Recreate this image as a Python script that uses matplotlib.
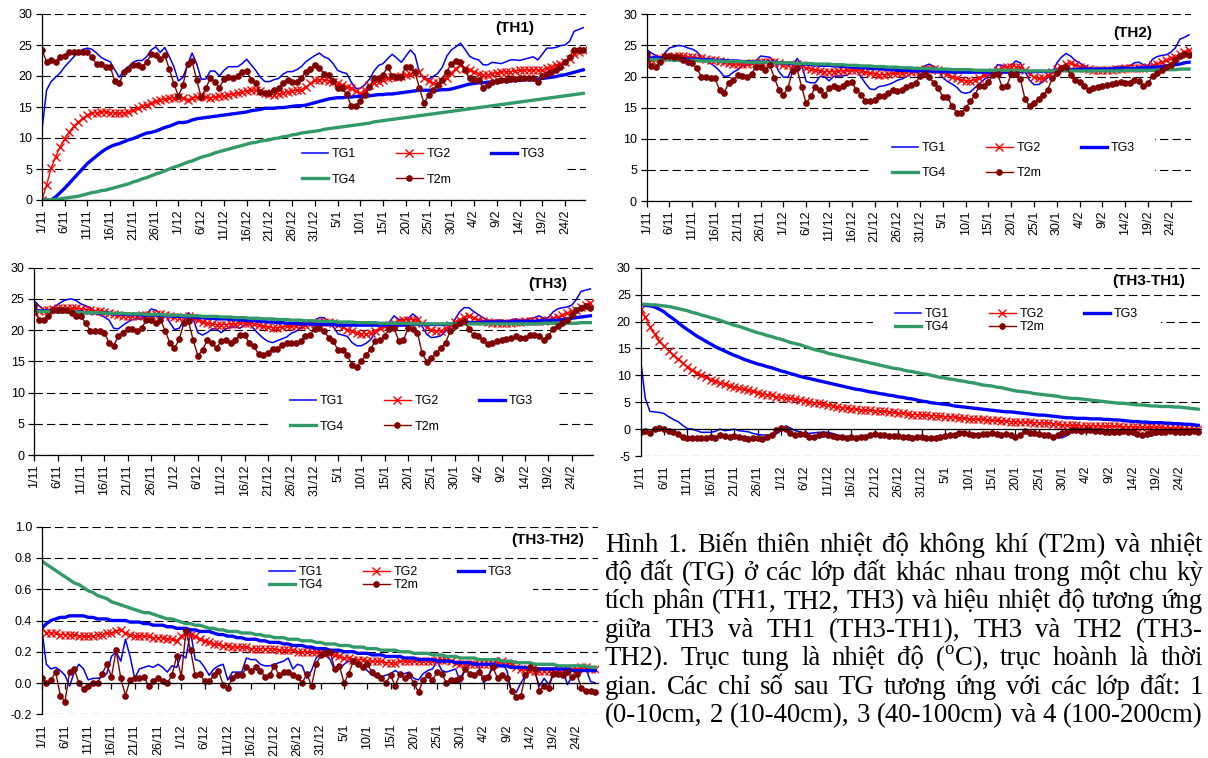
import numpy as np
import matplotlib
matplotlib.use('Agg')
import matplotlib.pyplot as plt
from matplotlib.patches import Rectangle
from matplotlib.ticker import FormatStrFormatter

plt.rcParams['font.family'] = 'Liberation Sans'
plt.rcParams['lines.scale_dashes'] = False
plt.rcParams['mathtext.fontset'] = 'custom'
plt.rcParams['mathtext.rm'] = 'Liberation Serif'

# ---------------- data (daily values, 1/11 .. 28/2) ----------------
days = np.arange(120)
tick_pos = np.arange(0, 116, 5)
tick_labels = ['1/11', '6/11', '11/11', '16/11', '21/11', '26/11', '1/12', '6/12',
               '11/12', '16/12', '21/12', '26/12', '31/12', '5/1', '10/1', '15/1',
               '20/1', '25/1', '30/1', '4/2', '9/2', '14/2', '19/2', '24/2']

# TH1
th1_tg1 = [11.3, 17.7, 19.1, 19.8, 20.5, 21.5, 22.3, 23.1, 23.9, 24.3,
           24.5, 24.3, 23.7, 23.0, 22.6, 22.3, 21.0, 19.8, 20.9, 21.5,
           22.2, 22.5, 22.5, 23.1, 24.2, 24.7, 23.8, 24.6, 23.1, 21.5,
           19.2, 19.8, 21.8, 23.7, 22.0, 19.5, 19.5, 20.8, 20.8, 20.0,
           20.9, 21.5, 21.5, 21.5, 22.0, 22.7, 21.8, 20.9, 19.8, 19.1,
           19.1, 19.4, 19.6, 20.3, 20.7, 20.7, 21.0, 21.5, 22.3, 22.8,
           23.3, 23.7, 23.1, 22.8, 22.0, 20.9, 20.6, 20.4, 19.0, 18.0,
           18.0, 18.6, 19.5, 20.8, 21.7, 22.0, 22.8, 23.5, 22.9, 22.2,
           23.2, 24.2, 23.4, 20.5, 19.5, 19.5, 19.9, 20.4, 21.4, 23.2,
           24.2, 24.7, 25.3, 24.3, 23.2, 22.8, 22.6, 21.8, 21.8, 22.2,
           22.1, 22.0, 22.3, 22.6, 22.6, 22.5, 22.7, 22.9, 23.1, 22.6,
           23.5, 24.5, 24.5, 24.6, 24.9, 25.0, 25.6, 27.2, 27.5, 27.8]
th1_tg2 = [0.0, 2.4, 5.1, 7.0, 8.6, 9.9, 11.0, 11.9, 12.6, 13.2,
           13.7, 14.0, 14.1, 14.2, 14.2, 14.1, 14.0, 14.0, 14.1, 14.2,
           14.5, 14.8, 15.1, 15.3, 15.6, 15.9, 16.1, 16.3, 16.4, 16.5,
           16.6, 16.4, 16.2, 16.4, 16.6, 16.7, 16.6, 16.5, 16.6, 16.7,
           16.8, 16.9, 17.1, 17.2, 17.4, 17.6, 17.7, 17.7, 17.6, 17.3,
           17.1, 17.0, 17.1, 17.2, 17.5, 17.6, 17.7, 17.8, 18.2, 18.8,
           19.3, 19.4, 19.4, 19.2, 19.1, 18.8, 18.5, 18.3, 18.0, 17.6,
           17.2, 17.7, 18.5, 18.9, 19.1, 19.4, 19.6, 19.8, 19.9, 20.0,
           20.1, 20.3, 20.5, 20.7, 19.6, 19.2, 18.8, 18.8, 19.2, 19.6,
           20.5, 21.2, 21.8, 21.3, 20.9, 20.7, 20.3, 20.2, 20.2, 20.4,
           20.5, 20.6, 20.7, 20.7, 20.8, 20.9, 20.9, 21.0, 21.0, 21.0,
           21.0, 21.3, 21.5, 21.7, 22.0, 22.3, 22.8, 23.5, 23.9, 24.2]
th1_tg3 = [0.0, 0.0, 0.0, 0.5, 1.2, 1.9, 2.7, 3.5, 4.3, 5.1,
           5.9, 6.5, 7.1, 7.7, 8.2, 8.6, 8.9, 9.1, 9.4, 9.7,
           9.9, 10.2, 10.5, 10.8, 10.9, 11.1, 11.4, 11.7, 11.9, 12.2,
           12.5, 12.5, 12.6, 12.9, 13.1, 13.2, 13.3, 13.4, 13.5, 13.6,
           13.7, 13.8, 13.9, 14.0, 14.1, 14.2, 14.4, 14.5, 14.6, 14.8,
           14.8, 14.8, 14.9, 14.9, 15.0, 15.1, 15.2, 15.2, 15.3, 15.5,
           15.7, 15.9, 16.1, 16.3, 16.4, 16.5, 16.5, 16.6, 16.6, 16.7,
           16.7, 16.7, 16.8, 16.9, 17.0, 17.0, 17.1, 17.1, 17.2, 17.3,
           17.4, 17.5, 17.6, 17.7, 17.7, 17.7, 17.7, 17.7, 17.8, 17.8,
           17.9, 18.1, 18.3, 18.5, 18.7, 18.8, 18.9, 18.9, 19.0, 19.0,
           19.1, 19.1, 19.2, 19.2, 19.3, 19.3, 19.4, 19.4, 19.4, 19.5,
           19.6, 19.7, 19.8, 19.9, 20.1, 20.2, 20.4, 20.6, 20.8, 21.0]
th1_tg4 = [0.0, 0.0, 0.05, 0.1, 0.2, 0.3, 0.4, 0.5, 0.6, 0.8,
           1.0, 1.2, 1.3, 1.5, 1.6, 1.8, 2.0, 2.2, 2.4, 2.6,
           2.9, 3.1, 3.4, 3.6, 3.9, 4.2, 4.4, 4.7, 5.0, 5.3,
           5.5, 5.8, 6.1, 6.3, 6.6, 6.9, 7.1, 7.3, 7.6, 7.8,
           8.0, 8.2, 8.4, 8.6, 8.8, 9.0, 9.2, 9.3, 9.5, 9.6,
           9.7, 9.9, 10.0, 10.2, 10.3, 10.5, 10.6, 10.8, 10.9, 11.0,
           11.1, 11.2, 11.4, 11.5, 11.6, 11.7, 11.8, 11.9, 12.0, 12.1,
           12.2, 12.3, 12.4, 12.6, 12.7, 12.8, 12.9, 13.0, 13.1, 13.2,
           13.3, 13.4, 13.5, 13.6, 13.7, 13.8, 13.9, 14.0, 14.1, 14.2,
           14.3, 14.4, 14.5, 14.6, 14.7, 14.8, 14.9, 15.0, 15.1, 15.2,
           15.3, 15.4, 15.5, 15.6, 15.7, 15.8, 15.9, 16.0, 16.1, 16.2,
           16.3, 16.4, 16.5, 16.6, 16.7, 16.8, 16.9, 17.0, 17.1, 17.2]
th1_t2m = [24.2, 22.3, 22.6, 22.3, 23.1, 23.3, 23.9, 23.9, 23.8, 23.8,
           23.8, 23.0, 21.9, 21.9, 21.5, 21.5, 19.2, 18.8, 20.7, 21.1,
           21.8, 21.8, 21.5, 22.2, 23.5, 23.4, 22.7, 23.4, 21.1, 18.7,
           16.8, 18.5, 22.0, 22.4, 19.4, 16.6, 18.0, 19.6, 19.1, 18.1,
           19.5, 19.8, 19.7, 20.0, 20.7, 20.8, 19.4, 18.8, 17.5, 17.3,
           17.3, 17.8, 18.0, 18.9, 19.4, 19.1, 19.1, 19.6, 20.7, 21.2,
           21.7, 21.3, 20.4, 20.2, 19.2, 18.0, 18.0, 17.1, 15.1, 15.1,
           15.9, 16.9, 18.2, 19.6, 19.6, 20.2, 21.5, 20.0, 19.8, 19.9,
           21.5, 21.5, 20.7, 18.0, 15.6, 16.9, 17.8, 18.5, 19.4, 20.7,
           22.0, 22.4, 22.3, 21.0, 19.6, 19.4, 19.4, 18.0, 18.5, 19.1,
           19.2, 19.4, 19.4, 19.5, 19.5, 19.6, 19.6, 19.6, 19.6, 19.1,
           20.0, 20.3, 20.7, 21.0, 21.5, 22.3, 23.1, 24.2, 24.2, 24.2]

# TH2
th2_tg1 = [24.3, 23.8, 23.4, 22.9, 23.8, 24.6, 24.8, 25.0, 24.9, 24.6,
           24.4, 24.0, 23.1, 22.5, 22.1, 21.6, 20.9, 20.0, 20.1, 20.7,
           21.1, 21.7, 21.9, 22.0, 22.5, 23.3, 23.2, 23.1, 22.4, 20.8,
           19.9, 19.9, 21.5, 22.9, 21.9, 19.2, 19.0, 19.0, 20.0, 20.0,
           19.3, 20.0, 20.1, 20.1, 20.2, 21.0, 21.0, 20.0, 18.9, 18.0,
           17.9, 18.4, 18.5, 18.7, 19.0, 19.4, 19.6, 20.0, 20.5, 21.0,
           21.3, 21.7, 22.0, 21.6, 21.0, 19.8, 19.2, 18.8, 18.3, 17.5,
           17.3, 17.5, 18.2, 18.8, 19.5, 20.1, 20.8, 21.9, 21.8, 21.5,
           21.8, 22.5, 22.2, 20.8, 19.4, 18.7, 18.7, 19.2, 19.8, 20.6,
           22.2, 23.1, 23.7, 23.3, 22.6, 22.2, 21.7, 21.4, 21.2, 21.0,
           21.2, 21.3, 21.3, 21.6, 21.6, 21.6, 21.7, 22.2, 22.3, 21.9,
           21.7, 22.8, 23.2, 23.4, 23.5, 23.9, 24.6, 26.0, 26.3, 26.7]
th2_tg2 = [22.4, 22.6, 22.8, 23.0, 23.1, 23.2, 23.3, 23.3, 23.3, 23.2,
           23.1, 23.0, 22.9, 22.8, 22.7, 22.6, 22.5, 22.3, 22.1, 22.0,
           22.0, 22.0, 22.0, 22.1, 22.2, 22.3, 22.4, 22.4, 22.3, 22.1,
           21.9, 21.8, 21.9, 22.0, 21.8, 21.4, 21.2, 21.0, 20.9, 20.8,
           20.8, 20.8, 20.9, 20.9, 21.0, 21.0, 21.0, 20.9, 20.7, 20.5,
           20.4, 20.3, 20.3, 20.4, 20.5, 20.5, 20.6, 20.7, 20.8, 20.9,
           21.0, 21.2, 21.2, 21.2, 21.1, 20.8, 20.4, 20.0, 19.7, 19.5,
           19.3, 19.3, 19.5, 19.8, 20.2, 20.5, 20.8, 21.1, 21.3, 21.5,
           21.6, 21.6, 21.5, 21.0, 20.4, 19.9, 19.7, 19.8, 20.2, 20.7,
           21.2, 21.6, 22.0, 22.1, 21.9, 21.6, 21.4, 21.2, 21.1, 21.0,
           21.0, 21.1, 21.1, 21.2, 21.2, 21.3, 21.3, 21.4, 21.4, 21.4,
           21.5, 21.8, 22.0, 22.3, 22.6, 22.9, 23.2, 23.6, 23.9, 24.2]
th2_tg3 = [23.0, 23.0, 23.0, 23.0, 23.0, 22.9, 22.9, 22.9, 22.9, 22.8,
           22.8, 22.8, 22.7, 22.7, 22.7, 22.6, 22.6, 22.6, 22.5, 22.5,
           22.5, 22.4, 22.4, 22.4, 22.3, 22.3, 22.3, 22.3, 22.3, 22.2,
           22.2, 22.1, 22.1, 22.1, 22.0, 22.0, 21.9, 21.9, 21.8, 21.8,
           21.8, 21.7, 21.7, 21.6, 21.6, 21.5, 21.5, 21.4, 21.4, 21.3,
           21.3, 21.2, 21.2, 21.1, 21.1, 21.0, 21.0, 21.0, 20.9, 20.9,
           20.9, 20.9, 20.9, 20.8, 20.8, 20.8, 20.8, 20.7, 20.7, 20.7,
           20.7, 20.7, 20.7, 20.7, 20.7, 20.7, 20.7, 20.7, 20.7, 20.7,
           20.8, 20.8, 20.8, 20.8, 20.8, 20.8, 20.8, 20.8, 20.8, 20.9,
           20.9, 21.0, 21.0, 21.1, 21.1, 21.2, 21.2, 21.2, 21.2, 21.2,
           21.2, 21.2, 21.2, 21.3, 21.3, 21.3, 21.3, 21.3, 21.4, 21.4,
           21.4, 21.5, 21.5, 21.6, 21.7, 21.8, 21.9, 22.0, 22.2, 22.3]
th2_tg4 = [22.7, 22.7, 22.7, 22.7, 22.7, 22.7, 22.6, 22.6, 22.6, 22.6,
           22.6, 22.6, 22.5, 22.5, 22.5, 22.5, 22.5, 22.4, 22.4, 22.4,
           22.4, 22.4, 22.3, 22.3, 22.3, 22.3, 22.3, 22.2, 22.2, 22.2,
           22.2, 22.2, 22.2, 22.1, 22.1, 22.1, 22.1, 22.0, 22.0, 22.0,
           22.0, 21.9, 21.9, 21.9, 21.8, 21.8, 21.8, 21.7, 21.7, 21.7,
           21.6, 21.6, 21.6, 21.5, 21.5, 21.5, 21.4, 21.4, 21.4, 21.3,
           21.3, 21.3, 21.3, 21.2, 21.2, 21.2, 21.2, 21.1, 21.1, 21.1,
           21.1, 21.1, 21.0, 21.0, 21.0, 21.0, 21.0, 21.0, 21.0, 21.0,
           21.0, 21.0, 21.0, 20.9, 20.9, 20.9, 20.9, 20.9, 20.9, 20.9,
           20.9, 20.9, 20.9, 20.9, 20.9, 20.9, 20.9, 20.9, 20.9, 20.9,
           20.9, 20.9, 20.9, 20.9, 20.9, 21.0, 21.0, 21.0, 21.0, 21.0,
           21.0, 21.0, 21.0, 21.1, 21.1, 21.1, 21.1, 21.2, 21.2, 21.2]
th2_t2m = [23.7, 21.7, 21.6, 22.4, 23.3, 23.3, 23.2, 23.1, 22.7, 22.4,
           22.2, 21.3, 20.0, 19.9, 19.7, 19.7, 17.8, 17.4, 19.0, 19.4,
           20.2, 20.1, 19.9, 20.4, 21.6, 21.6, 21.0, 21.9, 19.8, 17.9,
           17.0, 18.2, 20.9, 21.3, 18.3, 15.7, 16.8, 18.3, 17.9, 17.0,
           18.1, 18.4, 18.1, 18.5, 19.0, 19.2, 17.8, 17.1, 16.0, 16.0,
           16.3, 16.9, 16.9, 17.4, 17.8, 17.7, 17.8, 18.3, 18.6, 19.0,
           20.1, 20.4, 19.9, 19.0, 18.1, 16.7, 16.7, 15.3, 14.2, 14.2,
           14.9, 16.0, 17.0, 18.5, 18.5, 19.2, 20.2, 20.4, 18.3, 18.5,
           20.4, 20.4, 19.6, 16.4, 15.2, 15.7, 16.4, 17.0, 17.9, 19.7,
           20.6, 21.3, 21.6, 20.2, 19.4, 19.2, 18.5, 17.8, 18.1, 18.3,
           18.5, 18.6, 18.8, 18.9, 19.2, 18.9, 18.9, 19.4, 19.3, 18.5,
           18.9, 20.1, 20.6, 21.0, 21.6, 21.9, 22.7, 23.3, 23.7, 23.5]

# TH3
th3_tg1 = [24.7, 23.9, 23.3, 23.0, 23.6, 24.1, 24.6, 24.9, 25.0, 24.7,
           24.2, 23.9, 23.6, 22.7, 22.5, 22.1, 21.6, 20.3, 20.2, 20.8,
           21.3, 21.7, 21.8, 21.8, 22.5, 23.4, 23.2, 22.6, 22.5, 21.2,
           20.1, 20.3, 21.5, 22.8, 21.8, 19.6, 19.2, 19.6, 20.2, 20.2,
           19.6, 20.2, 20.5, 20.5, 20.3, 20.8, 21.0, 20.2, 19.4, 18.7,
           18.2, 18.0, 18.3, 18.6, 18.9, 19.5, 19.8, 20.3, 20.8, 21.2,
           21.5, 22.0, 22.0, 21.1, 20.5, 19.4, 19.2, 19.0, 18.0, 17.5,
           17.5, 17.9, 18.5, 19.6, 20.2, 20.7, 21.3, 22.3, 21.7, 21.6,
           21.9, 22.6, 22.0, 20.6, 19.3, 18.8, 18.9, 19.1, 19.8, 20.5,
           21.7, 22.9, 23.6, 23.6, 23.0, 22.5, 22.0, 21.6, 21.5, 21.6,
           21.6, 21.4, 21.6, 21.8, 21.6, 21.6, 21.8, 22.0, 22.3, 21.9,
           22.0, 22.9, 23.4, 23.6, 23.7, 24.0, 24.9, 26.2, 26.4, 26.6]
th3_tg2 = [22.8, 23.0, 23.2, 23.3, 23.4, 23.5, 23.5, 23.5, 23.5, 23.5,
           23.4, 23.3, 23.2, 23.1, 23.0, 22.9, 22.8, 22.6, 22.4, 22.3,
           22.3, 22.3, 22.3, 22.4, 22.5, 22.5, 22.6, 22.6, 22.5, 22.3,
           22.1, 22.0, 22.1, 22.2, 22.0, 21.6, 21.3, 21.1, 21.0, 20.9,
           20.9, 20.9, 21.0, 21.0, 21.1, 21.1, 21.1, 21.0, 20.8, 20.6,
           20.5, 20.4, 20.4, 20.5, 20.6, 20.6, 20.7, 20.8, 20.9, 21.0,
           21.1, 21.3, 21.3, 21.3, 21.2, 20.9, 20.5, 20.1, 19.8, 19.6,
           19.4, 19.4, 19.6, 19.9, 20.3, 20.6, 20.9, 21.2, 21.4, 21.6,
           21.7, 21.7, 21.6, 21.1, 20.5, 20.0, 19.8, 19.9, 20.3, 20.8,
           21.3, 21.7, 22.1, 22.2, 22.0, 21.7, 21.5, 21.3, 21.2, 21.1,
           21.1, 21.2, 21.2, 21.3, 21.3, 21.4, 21.4, 21.5, 21.5, 21.5,
           21.6, 21.9, 22.1, 22.4, 22.7, 23.0, 23.3, 23.7, 24.0, 24.3]
th3_tg3 = [23.1, 23.1, 23.1, 23.1, 23.0, 23.0, 23.0, 23.0, 22.9, 22.9,
           22.9, 22.8, 22.8, 22.8, 22.7, 22.7, 22.7, 22.6, 22.6, 22.6,
           22.5, 22.5, 22.5, 22.4, 22.4, 22.4, 22.4, 22.3, 22.3, 22.3,
           22.2, 22.2, 22.2, 22.1, 22.1, 22.0, 22.0, 21.9, 21.9, 21.8,
           21.8, 21.8, 21.7, 21.7, 21.6, 21.6, 21.5, 21.5, 21.4, 21.4,
           21.3, 21.3, 21.2, 21.2, 21.1, 21.1, 21.1, 21.0, 21.0, 21.0,
           20.9, 20.9, 20.9, 20.9, 20.9, 20.8, 20.8, 20.8, 20.8, 20.8,
           20.8, 20.8, 20.8, 20.8, 20.8, 20.8, 20.8, 20.8, 20.8, 20.8,
           20.8, 20.9, 20.9, 20.9, 20.9, 20.9, 20.9, 20.9, 20.9, 21.0,
           21.0, 21.1, 21.1, 21.2, 21.2, 21.2, 21.3, 21.3, 21.3, 21.3,
           21.3, 21.3, 21.3, 21.4, 21.4, 21.4, 21.4, 21.4, 21.5, 21.5,
           21.5, 21.6, 21.6, 21.7, 21.8, 21.9, 22.0, 22.1, 22.2, 22.3]
th3_tg4 = [23.0, 23.0, 23.0, 23.0, 23.0, 22.9, 22.9, 22.9, 22.9, 22.9,
           22.8, 22.8, 22.8, 22.8, 22.8, 22.7, 22.7, 22.7, 22.7, 22.7,
           22.6, 22.6, 22.6, 22.6, 22.5, 22.5, 22.5, 22.5, 22.4, 22.4,
           22.4, 22.4, 22.3, 22.3, 22.3, 22.3, 22.2, 22.2, 22.2, 22.2,
           22.1, 22.1, 22.1, 22.0, 22.0, 22.0, 21.9, 21.9, 21.9, 21.8,
           21.8, 21.8, 21.7, 21.7, 21.7, 21.6, 21.6, 21.6, 21.5, 21.5,
           21.5, 21.4, 21.4, 21.4, 21.4, 21.3, 21.3, 21.3, 21.3, 21.2,
           21.2, 21.2, 21.2, 21.2, 21.1, 21.1, 21.1, 21.1, 21.1, 21.1,
           21.1, 21.0, 21.0, 21.0, 21.0, 21.0, 21.0, 21.0, 21.0, 21.0,
           21.0, 21.0, 21.0, 21.0, 21.0, 21.0, 21.0, 21.0, 21.0, 21.0,
           21.0, 21.0, 21.0, 21.0, 21.0, 21.0, 21.0, 21.0, 21.0, 21.1,
           21.1, 21.1, 21.1, 21.1, 21.1, 21.1, 21.1, 21.2, 21.2, 21.2]
th3_t2m = [23.8, 21.7, 21.6, 22.3, 23.2, 23.2, 23.2, 23.3, 22.7, 22.3,
           22.2, 21.1, 19.9, 19.9, 19.8, 19.6, 18.0, 17.5, 19.1, 19.6,
           20.2, 20.2, 19.9, 20.4, 21.6, 21.6, 21.1, 21.7, 19.9, 18.0,
           17.1, 18.5, 21.1, 21.4, 18.4, 15.9, 16.8, 18.4, 18.0, 17.1,
           18.3, 18.4, 18.0, 18.4, 19.2, 19.2, 18.0, 17.4, 16.1, 16.0,
           16.4, 16.9, 17.0, 17.6, 18.0, 17.9, 18.0, 18.3, 19.0, 19.3,
           20.2, 20.4, 19.9, 18.8, 18.2, 16.8, 16.8, 16.0, 14.4, 14.1,
           15.1, 16.0, 17.0, 18.3, 18.4, 19.1, 20.2, 20.3, 18.3, 18.4,
           20.3, 20.2, 19.6, 16.3, 14.9, 15.5, 16.3, 17.1, 18.0, 19.8,
           20.7, 21.1, 21.5, 20.2, 19.2, 19.0, 18.4, 17.7, 18.0, 18.3,
           18.4, 18.6, 18.7, 19.0, 18.8, 18.7, 19.2, 19.2, 19.1, 18.4,
           19.0, 20.2, 20.6, 21.1, 21.6, 22.4, 23.2, 23.5, 23.8, 23.5]

# TH3 - TH1
d31_tg1 = [13.1, 5.8, 3.3, 3.2, 3.1, 2.9, 2.3, 1.8, 1.4, 0.7,
           0.1, 0.0, -0.3, -0.6, -0.6, -0.6, -0.4, 0.0, -0.3, -0.2,
           0.0, -0.3, -0.4, -0.5, -0.8, -1.0, -1.1, -1.1, -1.1, -0.9,
           -0.3, 0.6, 0.2, -0.3, -0.5, -0.8, -0.8, -0.7, -0.6, -0.6,
           -0.6, -0.8, -1.1, -1.3, -1.4, -1.4, -1.4, -1.3, -1.2, -1.1,
           -1.0, -1.0, -1.0, -1.1, -1.2, -1.4, -1.5, -1.5, -1.6, -1.6,
           -1.6, -1.7, -1.7, -1.7, -1.6, -1.4, -1.3, -1.2, -1.0, -1.0,
           -1.1, -1.2, -1.2, -1.1, -1.1, -1.0, -1.1, -1.2, -1.2, -1.2,
           -1.5, -1.3, -0.6, -0.9, -1.0, -1.1, -1.2, -1.3, -1.5, -1.6,
           -1.6, -1.2, -0.5, -0.3, -0.4, -0.4, -0.4, -0.5, -0.5, -0.6,
           -0.7, -0.7, -0.7, -0.6, -0.7, -0.8, -1.1, -1.3, -1.3, -1.2,
           -1.0, -0.8, -0.8, -0.7, -0.7, -0.8, -0.8, -0.8, -0.7, -0.8]
d31_tg2 = [22.3, 20.9, 19.0, 17.6, 16.4, 15.5, 14.6, 13.8, 13.0, 12.3,
           11.6, 11.0, 10.4, 10.0, 9.6, 9.2, 8.9, 8.6, 8.3, 8.1,
           7.8, 7.6, 7.4, 7.2, 7.0, 6.8, 6.6, 6.4, 6.3, 6.0,
           5.9, 5.8, 5.7, 5.6, 5.4, 5.3, 5.1, 4.9, 4.8, 4.6,
           4.5, 4.3, 4.2, 4.0, 3.9, 3.8, 3.7, 3.6, 3.5, 3.5,
           3.4, 3.3, 3.3, 3.2, 3.1, 3.0, 2.9, 2.8, 2.7, 2.7,
           2.6, 2.6, 2.5, 2.5, 2.4, 2.3, 2.3, 2.2, 2.1, 2.0,
           1.9, 1.9, 1.8, 1.8, 1.7, 1.6, 1.6, 1.5, 1.5, 1.4,
           1.4, 1.3, 1.3, 1.3, 1.2, 1.2, 1.1, 1.1, 1.0, 0.9,
           0.8, 0.7, 0.7, 0.7, 0.6, 0.6, 0.6, 0.6, 0.6, 0.5,
           0.5, 0.5, 0.5, 0.4, 0.4, 0.4, 0.4, 0.3, 0.3, 0.3,
           0.3, 0.3, 0.2, 0.2, 0.2, 0.2, 0.1, 0.1, 0.1, 0.1]
d31_tg3 = [23.2, 23.0, 22.9, 22.7, 22.3, 21.8, 21.1, 20.5, 19.8, 19.1,
           18.5, 17.9, 17.3, 16.8, 16.3, 15.8, 15.3, 14.9, 14.5, 14.1,
           13.7, 13.4, 13.0, 12.7, 12.4, 12.1, 11.9, 11.6, 11.4, 11.1,
           10.8, 10.6, 10.3, 10.1, 9.8, 9.6, 9.4, 9.2, 9.0, 8.8,
           8.6, 8.4, 8.2, 8.0, 7.8, 7.6, 7.4, 7.3, 7.1, 6.9,
           6.8, 6.6, 6.5, 6.3, 6.2, 6.0, 5.9, 5.7, 5.6, 5.4,
           5.2, 5.1, 4.9, 4.8, 4.7, 4.6, 4.5, 4.3, 4.2, 4.1,
           4.0, 3.9, 3.8, 3.7, 3.6, 3.5, 3.4, 3.3, 3.2, 3.2,
           3.1, 3.0, 2.9, 2.8, 2.7, 2.6, 2.6, 2.5, 2.4, 2.3,
           2.2, 2.1, 2.1, 2.0, 2.0, 2.0, 1.9, 1.9, 1.9, 1.8,
           1.8, 1.7, 1.7, 1.6, 1.5, 1.4, 1.4, 1.3, 1.3, 1.2,
           1.2, 1.2, 1.1, 1.1, 1.0, 1.0, 0.9, 0.9, 0.8, 0.7]
d31_tg4 = [23.2, 23.2, 23.1, 23.1, 23.0, 22.9, 22.8, 22.6, 22.4, 22.2,
           22.0, 21.7, 21.5, 21.2, 21.0, 20.7, 20.5, 20.2, 19.9, 19.6,
           19.3, 19.1, 18.8, 18.5, 18.2, 17.9, 17.7, 17.4, 17.2, 16.9,
           16.7, 16.4, 16.1, 15.9, 15.7, 15.4, 15.1, 14.8, 14.6, 14.4,
           14.1, 13.9, 13.7, 13.5, 13.3, 13.1, 12.9, 12.7, 12.5, 12.3,
           12.1, 11.9, 11.7, 11.5, 11.3, 11.2, 11.0, 10.8, 10.7, 10.5,
           10.3, 10.2, 10.0, 9.8, 9.6, 9.5, 9.3, 9.2, 9.0, 8.9,
           8.7, 8.6, 8.4, 8.2, 8.1, 8.0, 7.8, 7.7, 7.5, 7.3,
           7.1, 7.0, 6.9, 6.8, 6.6, 6.5, 6.4, 6.3, 6.2, 6.1,
           5.9, 5.8, 5.7, 5.7, 5.6, 5.5, 5.4, 5.3, 5.2, 5.1,
           5.0, 4.9, 4.8, 4.8, 4.7, 4.6, 4.5, 4.5, 4.4, 4.3,
           4.3, 4.2, 4.2, 4.2, 4.1, 4.1, 4.0, 3.9, 3.8, 3.7]
d31_t2m = [-0.5, -0.4, -0.8, 0.0, 0.25, 0.0, -0.4, -0.6, -1.0, -1.4,
           -1.6, -1.6, -1.7, -1.7, -1.6, -1.4, -1.7, -1.1, -1.2, -1.4,
           -1.2, -1.4, -1.6, -1.9, -1.6, -1.7, -1.9, -1.4, -1.1, -0.2,
           0.25, 0.1, -0.8, -1.1, -1.0, -1.0, -1.4, -1.4, -1.1, -1.0,
           -1.1, -1.2, -1.4, -1.4, -1.6, -1.4, -1.6, -1.4, -1.4, -1.1,
           -1.0, -1.1, -1.1, -1.2, -1.2, -1.2, -1.4, -1.4, -1.6, -1.4,
           -1.4, -1.6, -1.6, -1.7, -1.4, -1.2, -1.1, -1.1, -0.8, -0.8,
           -1.0, -1.1, -1.1, -1.0, -1.0, -0.8, -1.0, -1.1, -1.0, -1.1,
           -1.4, -1.1, -0.4, -0.8, -0.8, -1.0, -1.1, -1.1, -1.4, -1.1,
           -0.8, -0.5, -0.2, -0.2, -0.4, -0.2, -0.2, -0.4, -0.4, -0.5,
           -0.6, -0.5, -0.5, -0.4, -0.5, -0.6, -1.0, -1.1, -1.0, -0.8,
           -0.6, -0.5, -0.5, -0.4, -0.5, -0.5, -0.6, -0.5, -0.4, -0.5]

# TH3 - TH2
d32_tg1 = [0.35, 0.12, 0.09, 0.10, 0.08, 0.05, -0.02, 0.07, 0.12, 0.09,
           0.02, 0.03, 0.03, 0.04, 0.06, 0.17, 0.20, 0.14, 0.28, 0.17,
           0.03, 0.09, 0.10, 0.11, 0.10, 0.12, 0.10, 0.07, 0.11, 0.10,
           0.18, 0.16, 0.33, 0.15, 0.14, 0.10, 0.05, 0.09, 0.11, 0.12,
           0.02, 0.07, 0.07, 0.07, 0.16, 0.15, 0.15, 0.12, 0.11, 0.11,
           0.12, 0.13, 0.14, 0.16, 0.09, 0.12, 0.11, 0.03, 0.08, 0.16,
           0.19, 0.18, 0.15, 0.08, 0.09, 0.12, 0.14, 0.14, 0.12, 0.10,
           0.08, 0.05, 0.04, 0.04, 0.05, 0.06, 0.08, 0.06, 0.06, 0.07,
           0.03, 0.02, 0.06, 0.08, 0.09, 0.14, 0.08, 0.07, 0.08, 0.09,
           0.00, 0.09, 0.12, 0.13, 0.11, 0.00, 0.04, 0.12, 0.16, 0.13,
           0.08, -0.06, -0.06, 0.00, 0.05, 0.11, 0.07, -0.02, 0.03, -0.01,
           0.06, 0.08, 0.09, -0.01, 0.04, 0.06, 0.07, 0.09, 0.01, 0.00]
d32_tg2 = [0.35, 0.32, 0.32, 0.32, 0.31, 0.31, 0.31, 0.31, 0.30, 0.30,
           0.30, 0.30, 0.31, 0.31, 0.32, 0.32, 0.33, 0.34, 0.32, 0.31,
           0.30, 0.30, 0.30, 0.30, 0.29, 0.29, 0.29, 0.28, 0.28, 0.27,
           0.30, 0.32, 0.31, 0.30, 0.28, 0.27, 0.26, 0.25, 0.25, 0.24,
           0.24, 0.23, 0.23, 0.23, 0.23, 0.22, 0.22, 0.22, 0.22, 0.22,
           0.22, 0.21, 0.21, 0.21, 0.21, 0.20, 0.20, 0.20, 0.20, 0.20,
           0.20, 0.19, 0.19, 0.18, 0.17, 0.16, 0.16, 0.15, 0.15, 0.15,
           0.14, 0.14, 0.14, 0.14, 0.13, 0.13, 0.13, 0.14, 0.14, 0.14,
           0.14, 0.14, 0.14, 0.14, 0.14, 0.15, 0.15, 0.15, 0.14, 0.13,
           0.12, 0.12, 0.12, 0.12, 0.12, 0.12, 0.12, 0.12, 0.13, 0.14,
           0.13, 0.12, 0.10, 0.09, 0.09, 0.08, 0.08, 0.08, 0.08, 0.08,
           0.08, 0.09, 0.09, 0.09, 0.09, 0.09, 0.10, 0.10, 0.09, 0.09]
d32_tg3 = [0.35, 0.38, 0.40, 0.41, 0.42, 0.42, 0.43, 0.43, 0.43, 0.43,
           0.42, 0.42, 0.41, 0.41, 0.41, 0.40, 0.40, 0.40, 0.40, 0.39,
           0.39, 0.39, 0.38, 0.38, 0.37, 0.37, 0.37, 0.36, 0.36, 0.35,
           0.35, 0.35, 0.34, 0.34, 0.33, 0.33, 0.33, 0.32, 0.31, 0.31,
           0.30, 0.30, 0.29, 0.29, 0.28, 0.28, 0.28, 0.27, 0.27, 0.26,
           0.26, 0.26, 0.25, 0.25, 0.24, 0.24, 0.24, 0.23, 0.23, 0.22,
           0.22, 0.22, 0.21, 0.21, 0.21, 0.20, 0.20, 0.20, 0.19, 0.19,
           0.19, 0.18, 0.18, 0.18, 0.17, 0.17, 0.17, 0.17, 0.16, 0.16,
           0.16, 0.15, 0.15, 0.15, 0.15, 0.14, 0.14, 0.14, 0.14, 0.13,
           0.13, 0.13, 0.13, 0.12, 0.12, 0.12, 0.12, 0.12, 0.11, 0.11,
           0.11, 0.10, 0.10, 0.10, 0.10, 0.09, 0.09, 0.09, 0.09, 0.09,
           0.09, 0.09, 0.09, 0.09, 0.08, 0.08, 0.08, 0.08, 0.08, 0.08]
d32_tg4 = [0.78, 0.76, 0.74, 0.72, 0.70, 0.68, 0.66, 0.64, 0.63, 0.61,
           0.59, 0.58, 0.56, 0.55, 0.54, 0.52, 0.51, 0.50, 0.49, 0.48,
           0.47, 0.46, 0.45, 0.45, 0.44, 0.43, 0.42, 0.41, 0.41, 0.40,
           0.39, 0.38, 0.38, 0.37, 0.37, 0.36, 0.35, 0.35, 0.34, 0.34,
           0.33, 0.33, 0.33, 0.32, 0.32, 0.32, 0.31, 0.31, 0.30, 0.30,
           0.29, 0.29, 0.29, 0.28, 0.28, 0.28, 0.27, 0.27, 0.27, 0.26,
           0.26, 0.25, 0.25, 0.25, 0.24, 0.24, 0.24, 0.23, 0.23, 0.23,
           0.22, 0.22, 0.22, 0.21, 0.21, 0.21, 0.21, 0.20, 0.20, 0.20,
           0.19, 0.19, 0.19, 0.19, 0.18, 0.18, 0.18, 0.17, 0.17, 0.17,
           0.16, 0.16, 0.16, 0.16, 0.15, 0.15, 0.15, 0.15, 0.15, 0.14,
           0.14, 0.14, 0.13, 0.13, 0.13, 0.13, 0.12, 0.12, 0.12, 0.12,
           0.12, 0.11, 0.11, 0.11, 0.11, 0.11, 0.11, 0.11, 0.10, 0.10]
d32_t2m = [0.03, 0.00, 0.02, 0.07, -0.08, -0.12, 0.07, 0.09, 0.00, -0.04,
           -0.02, 0.00, 0.00, 0.06, 0.12, 0.04, 0.21, 0.03, -0.08, 0.02,
           0.03, 0.03, 0.04, -0.02, 0.01, 0.03, 0.01, 0.00, 0.05, 0.17,
           0.04, 0.33, 0.21, 0.05, 0.06, 0.01, 0.01, 0.05, 0.08, -0.01,
           -0.03, 0.03, 0.05, 0.05, 0.10, 0.08, 0.10, 0.08, 0.04, 0.05,
           0.11, 0.05, 0.07, 0.07, 0.05, 0.04, 0.00, 0.06, -0.02, 0.12,
           0.18, 0.19, 0.20, 0.09, 0.11, 0.00, 0.06, 0.14, 0.12, 0.10,
           0.12, 0.07, 0.05, 0.03, 0.00, 0.05, -0.02, 0.06, 0.03, 0.05,
           0.00, -0.06, 0.02, 0.05, 0.02, 0.07, 0.06, 0.00, 0.02, 0.02,
           0.03, 0.09, 0.06, 0.05, 0.07, 0.03, 0.04, 0.10, 0.03, 0.05,
           0.03, -0.05, -0.09, -0.08, 0.05, 0.10, 0.09, -0.05, -0.02, -0.03,
           0.06, 0.06, 0.05, 0.07, 0.04, 0.06, -0.03, -0.05, -0.05, -0.06]

caption_lines = [
    'Hình 1. Biến thiên nhiệt độ không khí (T2m) và nhiệt',
    'độ đất (TG) ở các lớp đất khác nhau trong một chu kỳ',
    'tích phân (TH1, TH2, TH3) và hiệu nhiệt độ tương ứng',
    'giữa TH3 và TH1 (TH3-TH1), TH3 và TH2 (TH3-',
    r'TH2). Trục tung là nhiệt độ ($^{\mathrm{o}}$C), trục hoành là thời',
    'gian. Các chỉ số sau TG tương ứng với các lớp đất: 1',
    '(0-10cm, 2 (10-40cm), 3 (40-100cm) và 4 (100-200cm)',
]

# ---------------- figure ----------------
W, H = 1208, 758
fig = plt.figure(figsize=(W / 100, H / 100), dpi=100)


def px_axes(left, top, right, bottom):
    return fig.add_axes([left / W, 1 - bottom / H, (right - left) / W, (bottom - top) / H])


def style(ax, ymin, ymax, step, fmt, zero_axis=False):
    ax.set_xlim(0, 119.5)
    ax.set_ylim(ymin, ymax)
    ax.set_yticks(np.arange(ymin, ymax + step / 2, step))
    ax.yaxis.set_major_formatter(FormatStrFormatter(fmt))
    ax.spines['top'].set_visible(False)
    ax.spines['right'].set_visible(False)
    ax.spines['left'].set_linewidth(0.9)
    ax.spines['bottom'].set_linewidth(0.9)
    ax.grid(axis='y', color='black', lw=0.8, linestyle=(0, (6, 3)))
    ax.set_axisbelow(True)
    ax.tick_params(axis='y', length=4, width=0.9, labelsize=9, pad=3)
    ax.set_xticks(tick_pos)
    if zero_axis:
        ax.spines['bottom'].set_position(('data', 0))
        ax.tick_params(axis='x', length=4, width=0.9, labelbottom=False)
        sec = ax.secondary_xaxis('bottom')
        sec.set_xticks(tick_pos, tick_labels, rotation=90, fontsize=9)
        sec.tick_params(length=0, pad=7)
        sec.spines['bottom'].set_visible(False)
    else:
        ax.set_xticklabels(tick_labels, rotation=90, fontsize=9)
        ax.tick_params(axis='x', length=4, width=0.9, pad=3)


def draw(ax, tg1, tg2, tg3, tg4, t2m):
    h1, = ax.plot(days, tg1, color='#0000FF', lw=1.1, label='TG1')
    h2, = ax.plot(days, tg2, color='#FF0000', lw=1.0, marker='x', ms=6, mew=1.0, label='TG2')
    h3, = ax.plot(days, tg3, color='#0000FF', lw=2.4, label='TG3')
    h4, = ax.plot(days, tg4, color='#339966', lw=2.4, label='TG4')
    h5, = ax.plot(days, t2m, color='#800000', lw=1.0, marker='o', ms=3.8, label='T2m')
    # column-major order so rows read TG1 TG2 TG3 / TG4 T2m
    return [h1, h4, h2, h5, h3]


def legend(ax, handles, x_px, y_px, spacing, box):
    ax.legend(handles=handles, ncol=3, loc='upper left', frameon=False,
              bbox_to_anchor=(x_px / W, 1 - y_px / H), bbox_transform=fig.transFigure,
              fontsize=9, borderpad=0, borderaxespad=0, handlelength=2.1,
              handletextpad=0.3, columnspacing=3.2, labelspacing=spacing)
    x0, y0, x1, y1 = box
    ax.add_patch(Rectangle((x0 / W, 1 - y1 / H), (x1 - x0) / W, (y1 - y0) / H,
                           transform=fig.transFigure, facecolor='white',
                           edgecolor='none', zorder=1))


def title(ax, text, x, y):
    ax.text(x, y, text, transform=ax.transAxes, fontsize=11, fontweight='bold',
            ha='center', va='center')


ax1 = px_axes(42, 14, 585.5, 200)
style(ax1, 0, 30, 5, '%d')
hs = draw(ax1, th1_tg1, th1_tg2, th1_tg3, th1_tg4, th1_t2m)
legend(ax1, hs, 302, 148, 1.1, (280, 142, 565, 197))
title(ax1, '(TH1)', 0.87, 0.923)

ax2 = px_axes(646.7, 14.3, 1191.3, 201)
style(ax2, 0, 30, 5, '%d')
hs = draw(ax2, th2_tg1, th2_tg2, th2_tg3, th2_tg4, th2_t2m)
legend(ax2, hs, 892, 142, 1.05, (870, 125, 1155, 185))
title(ax2, '(TH2)', 0.893, 0.898)

ax3 = px_axes(34.3, 267.7, 592.7, 455)
style(ax3, 0, 30, 5, '%d')
hs = draw(ax3, th3_tg1, th3_tg2, th3_tg3, th3_tg4, th3_t2m)
legend(ax3, hs, 290, 395, 1.1, (268, 385, 556, 435))
title(ax3, '(TH3)', 0.92, 0.911)

ax4 = px_axes(640.5, 267.7, 1200.6, 456)
style(ax4, -5, 30, 5, '%d', zero_axis=True)
hs = draw(ax4, d31_tg1, d31_tg2, d31_tg3, d31_tg4, d31_t2m)
legend(ax4, hs, 895, 308, 0.1, (873, 300, 1161, 340))
title(ax4, '(TH3-TH1)', 0.907, 0.929)

ax5 = px_axes(41.7, 526.7, 597.6, 714.3)
style(ax5, -0.2, 1.0, 0.2, '%.1f', zero_axis=True)
hs = draw(ax5, d32_tg1, d32_tg2, d32_tg3, d32_tg4, d32_t2m)
legend(ax5, hs, 269, 566, 0.1, (248, 562, 533, 596))
title(ax5, '(TH3-TH2)', 0.911, 0.929)

# ---------------- caption (justified) ----------------
renderer = fig.canvas.get_renderer()
x_left, x_right = 605, 1203
for k, line in enumerate(caption_lines):
    y = 551.7 + 28.4 * k
    words = line.split(' ')
    texts = [fig.text(0, 1 - y / H, w, fontsize=19.3, family='Liberation Serif',
                      va='baseline', ha='left') for w in words]
    widths = [t.get_window_extent(renderer).width for t in texts]
    gap = (x_right - x_left - sum(widths)) / (len(words) - 1)
    x = x_left
    for t, w in zip(texts, widths):
        t.set_x(x / W)
        x += w + gap

fig.savefig('out.png', dpi=100)
